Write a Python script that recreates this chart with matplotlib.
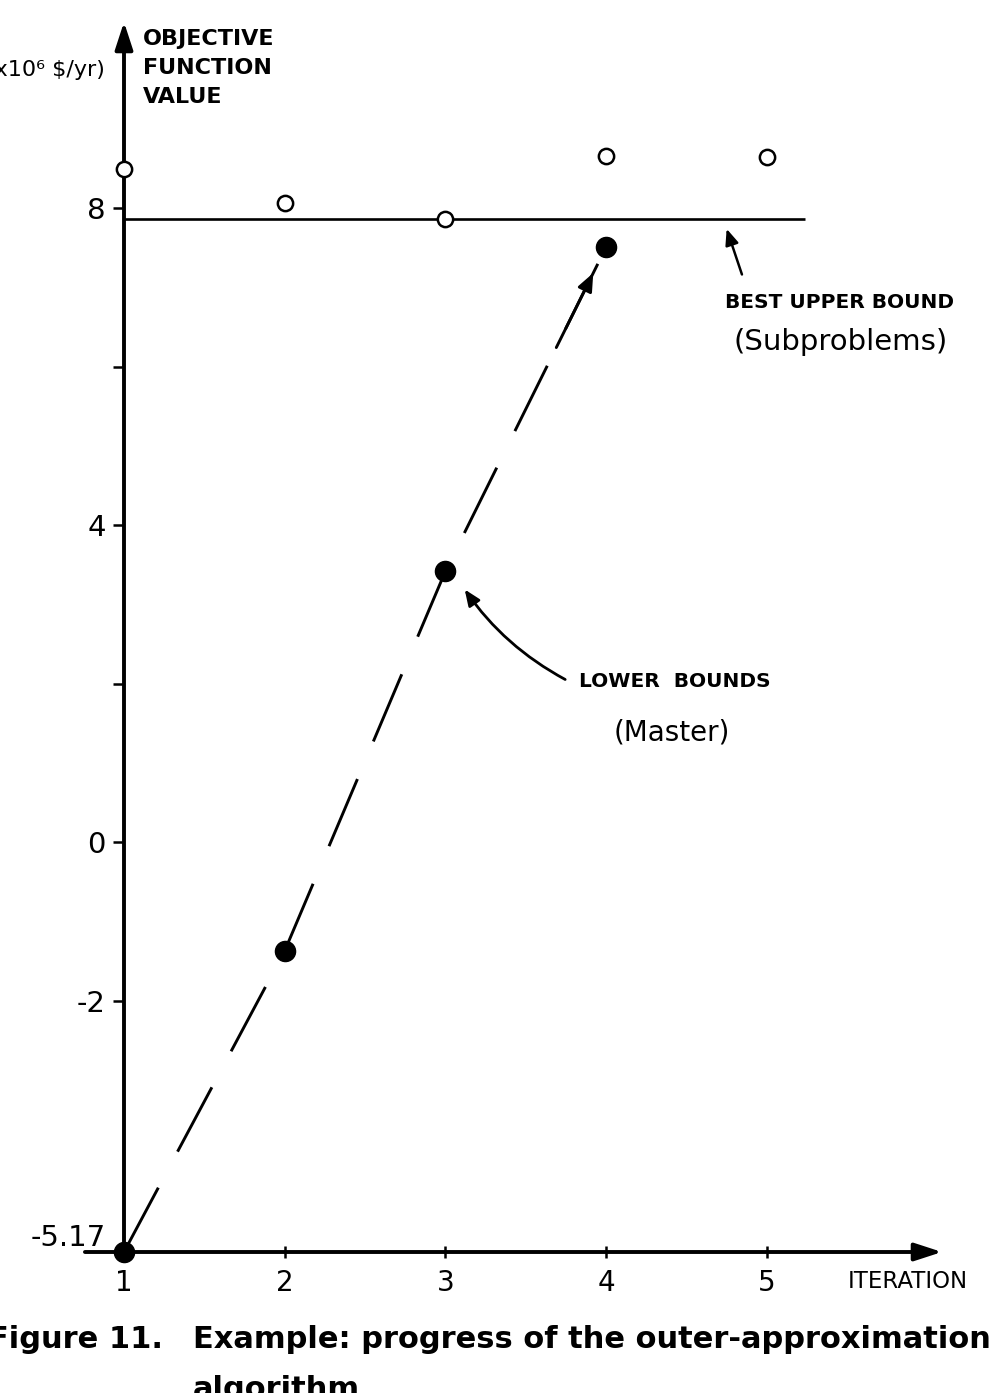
import numpy as np
import matplotlib.pyplot as plt

# values (objective in 10^6 $/yr)
iterations = [1, 2, 3, 4, 5]
upper_bounds = [8.50, 8.06, 7.86, 8.66, 8.65]   # subproblems (open circles)
lower_iter = [1, 2, 3, 4]
lower_bounds = [-5.17, -1.37, 3.42, 7.51]       # master (filled circles)

ytick_vals = [-5.17, -2, 0, 2, 4, 6, 8]
ytick_labels = ['-5.17', '-2', '0', '', '4', '', '8']
xtick_vals = [1, 2, 3, 4, 5]

best_upper = min(upper_bounds)
line_end = 5.24

plt.rcParams['font.family'] = ['DejaVu Sans']

W, H = 990, 1393
fig = plt.figure(figsize=(W / 100, H / 100), dpi=100)
ax = fig.add_axes([0.12525, 0.10122, 0.82626, 0.88299])
ax.set_xlim(1, 6.09)
ax.set_ylim(-5.17, 10.35)
for s in ax.spines.values():
    s.set_visible(False)

# axes drawn as arrows
arrow = dict(arrowstyle='-|>,head_length=0.83,head_width=0.27', lw=2.8,
             color='black', mutation_scale=20, shrinkA=0, shrinkB=0)
ax.annotate('', xy=(1, 10.35), xytext=(1, -5.17), arrowprops=arrow,
            annotation_clip=False)
ax.annotate('', xy=(6.09, -5.17), xytext=(0.757, -5.17), arrowprops=arrow,
            annotation_clip=False)

ax.set_yticks(ytick_vals)
ax.set_yticklabels(ytick_labels)
ax.set_xticks(xtick_vals)
ax.tick_params(axis='y', direction='out', length=8, width=1.8, pad=5, labelsize=21)
ax.tick_params(axis='x', direction='inout', length=9, width=1.8, pad=8, labelsize=20)
ax.get_yticklabels()[0].set_va('bottom')

# best upper bound line
ax.plot([1, line_end], [best_upper, best_upper], color='black', lw=1.9,
        solid_capstyle='butt')

# lower bound path (long dashes)
ax.plot(lower_iter, lower_bounds, color='black', lw=2.1,
        ls=(0, (25, 14)), dash_capstyle='butt')

ax.plot(iterations, upper_bounds, 'o', ms=11, mfc='white', mec='black',
        mew=1.8, clip_on=False, zorder=5)
ax.plot(lower_iter, lower_bounds, 'o', ms=14.5, color='black',
        clip_on=False, zorder=5)

# arrow on the last dash pointing at iteration 4
p3 = np.array([lower_iter[2], lower_bounds[2]])
p4 = np.array([lower_iter[3], lower_bounds[3]])
ax.annotate('', xy=p3 + 0.92 * (p4 - p3), xytext=p3 + 0.69 * (p4 - p3),
            arrowprops=dict(arrowstyle='-|>,head_length=0.6,head_width=0.25',
                            lw=2.1, color='black', mutation_scale=18,
                            shrinkA=0, shrinkB=0))

# labels
ax.text(0.882, 9.74, '(x10⁶ \\$/yr)', ha='right', va='center', fontsize=16,
        clip_on=False)
ax.text(1.118, 9.766, 'OBJECTIVE\nFUNCTION\nVALUE', ha='left', va='center',
        fontsize=16, fontweight='bold', linespacing=1.55)
ax.text(5.504, -5.536, 'ITERATION', ha='left', va='center', fontsize=16.5,
        clip_on=False)

ax.annotate('BEST UPPER BOUND', xy=(4.75, best_upper - 0.12), xytext=(5.454, 6.81),
            ha='center', va='center', fontsize=14.5, fontweight='bold',
            arrowprops=dict(arrowstyle='-|>,head_length=0.6,head_width=0.25',
                            lw=1.8, color='black', mutation_scale=16,
                            shrinkA=12, shrinkB=0, relpos=(0.1, 1)))
ax.text(5.46, 6.31, '(Subproblems)', ha='center', va='center', fontsize=21)

ax.annotate('LOWER  BOUNDS', xy=(3.12, 3.19), xytext=(4.425, 2.03),
            ha='center', va='center', fontsize=14.5, fontweight='bold',
            arrowprops=dict(arrowstyle='-|>,head_length=0.6,head_width=0.25',
                            lw=2.0, color='black', mutation_scale=16,
                            shrinkA=0, shrinkB=0, relpos=(-0.07, 0.6),
                            connectionstyle='arc3,rad=-0.12'))
ax.text(4.406, 1.38, '(Master)', ha='center', va='center', fontsize=20)

# caption
cap = dict(fontsize=22, fontweight='bold', family='DejaVu Sans')
fig.text(163 / W, 1 - 1348 / H, 'Figure 11.', ha='right', va='baseline', **cap)
fig.text(193 / W, 1 - 1348 / H, 'Example: progress of the outer-approximation',
         ha='left', va='baseline', **cap)
fig.text(193 / W, 1 - 1398 / H, 'algorithm', ha='left', va='baseline', **cap)

fig.savefig('out.png', dpi=100)
